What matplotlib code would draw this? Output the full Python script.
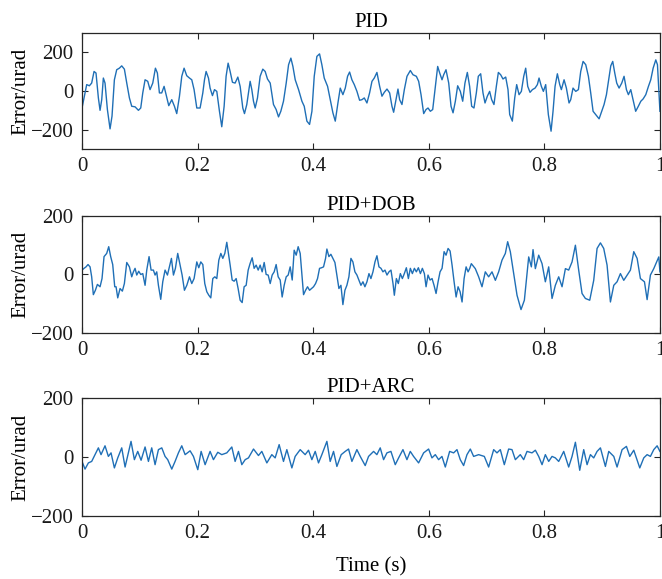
import matplotlib
matplotlib.use("Agg")
import matplotlib.pyplot as plt

# values: time (s) and error (urad)
pid_t = [0, 0.0035, 0.0081, 0.0127, 0.0167, 0.0208, 0.0242, 0.0283, 0.0312, 0.0341,
         0.0369, 0.0398, 0.0439, 0.0485, 0.0519, 0.0560, 0.0600, 0.0646, 0.0687, 0.0733,
         0.0774, 0.0820, 0.0860, 0.0918, 0.0976, 0.1016, 0.1051, 0.1091, 0.1137, 0.1177,
         0.1224, 0.1270, 0.1304, 0.1339, 0.1379, 0.1420, 0.1455, 0.1501, 0.1553, 0.1599,
         0.1639, 0.1686, 0.1726, 0.1766, 0.1812, 0.1859, 0.1899, 0.1939, 0.1986, 0.2043,
         0.2090, 0.2119, 0.2147, 0.2188, 0.2216, 0.2257, 0.2292, 0.2332, 0.2378, 0.2418,
         0.2459, 0.2493, 0.2528, 0.2563, 0.2603, 0.2649, 0.2696, 0.2736, 0.2782, 0.2811,
         0.2851, 0.2909, 0.2938, 0.2967, 0.2996, 0.3036, 0.3082, 0.3128, 0.3169, 0.3209,
         0.3256,
         0.3313, 0.3359, 0.3400, 0.3440, 0.3486, 0.3533, 0.3574, 0.3614, 0.3649, 0.3689,
         0.3747, 0.3805, 0.3845, 0.3891, 0.3937, 0.3978, 0.4018, 0.4064, 0.4110, 0.4150,
         0.4191, 0.4249, 0.4295, 0.4341, 0.4382, 0.4428, 0.4468, 0.4514, 0.4555, 0.4595,
         0.4630, 0.4670, 0.4711, 0.4757, 0.4803, 0.4843, 0.4884, 0.4930, 0.4976, 0.5017,
         0.5057, 0.5103, 0.5150, 0.5190, 0.5230, 0.5277, 0.5323, 0.5363, 0.5392, 0.5432,
         0.5467, 0.5496, 0.5536, 0.5577, 0.5623, 0.5681, 0.5727, 0.5785, 0.5825, 0.5866,
         0.5912, 0.5952, 0.5987, 0.6027, 0.6068, 0.6114, 0.6154, 0.6189, 0.6229, 0.6258,
         0.6298, 0.6345, 0.6385, 0.6420, 0.6460, 0.6500, 0.6546, 0.6587,
         0.6626, 0.6667, 0.6707, 0.6742, 0.6782, 0.6823, 0.6857, 0.6898, 0.6938, 0.6973,
         0.7013, 0.7053, 0.7088, 0.7128, 0.7169, 0.7204, 0.7244, 0.7284, 0.7331, 0.7371,
         0.7400, 0.7446, 0.7487, 0.7521, 0.7562, 0.7602, 0.7643, 0.7677, 0.7712, 0.7752,
         0.7793, 0.7839, 0.7879, 0.7908, 0.7948, 0.7983, 0.8023, 0.8069, 0.8116, 0.8150,
         0.8185, 0.8225, 0.8266, 0.8294, 0.8341, 0.8381, 0.8427, 0.8456, 0.8496, 0.8543,
         0.8589, 0.8629, 0.8670, 0.8716, 0.8762, 0.8802, 0.8843, 0.8889, 0.8947, 0.8993,
         0.9033, 0.9074, 0.9108, 0.9149, 0.9183, 0.9218, 0.9252, 0.9293, 0.9339, 0.9379,
         0.9420, 0.9454, 0.9495, 0.9535, 0.9580, 0.9626, 0.9669, 0.9709, 0.9755, 0.9801,
         0.9841, 0.9882, 0.9928, 0.9957, 1.0]
pid_err = [-88, -36, 33, 27, 41, 101, 93, -36, -100, -45,
           67, 41, -96, -196, -130, 58, 110, 118, 130, 113,
           41, -36, -79, -82, -100, -88, -10, 58, 50, 7,
           41, 118, 93, -10, -10, 24, -19, -76, -45, -79,
           -117, -27, 76, 118, 79, 67, 58, 7, -88, -88,
           -10, 58, 101, 67, 15, -24, 7, -2, -105, -185,
           -79, 76, 144, 101, 45, 41, 72, 24, -88, -117,
           -70, 50, 7, -53, -88, -36, 76, 113, 101, 62,
           41,
           -70, -96, -134, -105, -53, 41, 136, 170, 127, 58,
           7, -53, -79, -156, -173, -105, 76, 179, 192, 136,
           67, 24, -45, -113, -156, -62, 15, -19, 15, 76,
           98, 58, 33, -2, -48, -45, -36, -62, -10, 50,
           67, 96, 24, -27, -7, 10, -10, -79, -110, -45,
           10, -45, -70, 7, 76, 106, 84, 76, 50, -19,
           -117, -96, -88, -105, -96, 24, 127, 93, 58, 84,
           110, 41, -79, -113, -53, 27, -2, -53,
           41, 96, 24, -79, -88, -10, 76, 89, -10, -62,
           -27, -2, -45, -70, 24, 96, 84, 62, 72, 7,
           -122, -156, -36, 33, -19, -2, 76, 118, 24, -7,
           7, 15, 33, 67, 24, -2, 33, -122, -208, -105,
           24, 89, 33, 7, 58, 15, -62, -45, 15, -2,
           7, 101, 153, 136, 76, -10, -105, -122, -144, -105,
           -70, -19, 50, 130, 153, 93, 41, 15, 41, 76,
           7, -19, 7, -45, -105, -79, -53, -41, -19, 24,
           58, 118, 161, 136, -105]

dob_t = [0, 0.0035, 0.0069, 0.0104, 0.0139, 0.0167, 0.0196, 0.0231, 0.0266, 0.0312,
         0.0346, 0.0381, 0.0427, 0.0462, 0.0496, 0.0531, 0.0566, 0.0589, 0.0618, 0.0658,
         0.0698, 0.0733, 0.0774, 0.0820, 0.0860, 0.0889, 0.0918, 0.0947, 0.0981, 0.1016,
         0.1051, 0.1091, 0.1120, 0.1160, 0.1195, 0.1235, 0.1264, 0.1293, 0.1322, 0.1362,
         0.1397, 0.1437, 0.1478, 0.1512, 0.1547, 0.1582, 0.1616, 0.1656, 0.1697, 0.1732,
         0.1772, 0.1813, 0.1859, 0.1899, 0.1939, 0.1986, 0.2020, 0.2055, 0.2090, 0.2124,
         0.2159, 0.2194, 0.2228, 0.2263, 0.2298, 0.2332, 0.2367, 0.2402, 0.2436, 0.2471,
         0.2505, 0.2534, 0.2563, 0.2598, 0.2632, 0.2667, 0.2701, 0.2736, 0.2771, 0.2805,
         0.2840, 0.2875, 0.2909, 0.2944, 0.2978, 0.3013, 0.3048, 0.3082, 0.3117, 0.3152,
         0.3186, 0.3221, 0.3256,
         0.3290, 0.3325, 0.3359, 0.3394, 0.3429, 0.3463, 0.3498, 0.3533, 0.3567, 0.3602,
         0.3637, 0.3671, 0.3706, 0.3740, 0.3775, 0.3810, 0.3833, 0.3868, 0.3902, 0.3937,
         0.3972, 0.4006, 0.4041, 0.4075, 0.4110, 0.4145, 0.4179, 0.4214, 0.4237, 0.4272,
         0.4306, 0.4341, 0.4376, 0.4410, 0.4445, 0.4480, 0.4514, 0.4549, 0.4583, 0.4618,
         0.4653, 0.4687, 0.4722, 0.4757, 0.4791, 0.4826, 0.4861, 0.4895, 0.4930, 0.4965,
         0.4999, 0.5034, 0.5069, 0.5103, 0.5138, 0.5173, 0.5207, 0.5242, 0.5277, 0.5311,
         0.5346, 0.5381, 0.5404, 0.5439, 0.5473, 0.5508, 0.5543, 0.5577, 0.5612, 0.5647,
         0.5681, 0.5716, 0.5751, 0.5785, 0.5820, 0.5855, 0.5889, 0.5924, 0.5953, 0.5987,
         0.6022, 0.6057, 0.6091, 0.6126, 0.6161, 0.6195, 0.6230, 0.6265, 0.6299, 0.6334,
         0.6369, 0.6403, 0.6438, 0.6473, 0.6507, 0.6542, 0.6576, 0.6611, 0.6646, 0.6680,
         0.6709,
         0.6736, 0.6805, 0.6863, 0.6921, 0.6978, 0.7036, 0.7094, 0.7152, 0.7209, 0.7267,
         0.7325, 0.7365, 0.7411, 0.7469, 0.7527, 0.7596, 0.7654, 0.7729, 0.7775, 0.7804,
         0.7844, 0.7902, 0.7960, 0.8017, 0.8075, 0.8133, 0.8190, 0.8248, 0.8306, 0.8364,
         0.8421, 0.8479, 0.8537, 0.8594, 0.8652, 0.8710, 0.8785, 0.8854, 0.8912, 0.8970,
         0.9027, 0.9085, 0.9143, 0.9201, 0.9258, 0.9316, 0.9374, 0.9432, 0.9489, 0.9547,
         0.9605, 0.9662, 0.9732, 0.9778, 0.9835, 0.9893, 0.9980, 1.0]
dob_err = [15, 21, 26, 34, 26, -8, -69, -54, -34, -42,
           -14, 61, 72, 95, 61, 34, -42, -42, -80, -48,
           -57, -31, 41, 26, -8, 9, 21, -2, 11, 0,
           3, -37, 15, 61, 15, 15, -2, 9, -37, -85,
           -25, 15, -2, 26, 55, -2, 21, 72, 32, -2,
           -54, -37, -8, -31, -14, 43, 23, 43, 34, -31,
           -59, -71, -80, -14, -8, -14, 49, 72, 55, 72,
           110, 72, 32, -19, -23, -14, -48, -88, -96, -42,
           -37, 15, 38, 57, 21, 32, 15, 32, 9, 41,
           0, -2, -31,
           -2, 9, 34, -8, -19, -77, -37, -8, -2, 26,
           -19, 83, 66, 95, 72, -14, -69, -54, -42, -54,
           -48, -42, -31, -14, 21, 23, 26, 55, 87, 61,
           69, 55, 41, -2, -48, -37, -103, -54, -37, -8,
           55, 43, 9, -2, -19, -37, -25, -42, -25, 3,
           -14, 9, 43, 64, 26, 21, 9, 15, -2, 9,
           15, -31, -71, -14, -31, 3, -14, 3, 23, -14,
           21, 3, 21, 9, 23, 3, 21, 3, -42, -2,
           -19, -14, -37, -65, -25, 9, 21, 78, 66, 89,
           80, 32, -25, -77, -42, -59, -94, -14, 26, 9,
           21,
           37, 20, -8, -42, 9, -8, 9, -20, 9, 49,
           72, 112, 78, 3, -71, -120, -88, 60, 26, 85,
           20, 66, 37, -25, 26, -82, -37, -8, -42, 20,
           15, 43, 100, 15, -65, -82, -88, -20, 89, 108,
           89, 32, -94, -37, -25, 3, -20, -2, 15, 78,
           55, -14, -25, -86, -2, 20, 60, 9]

arc_t = [0, 0.0052, 0.0110, 0.0167, 0.0225, 0.0283, 0.0329, 0.0398, 0.0456, 0.0502,
         0.0560, 0.0618, 0.0687, 0.0745, 0.0802, 0.0848, 0.0906, 0.0964, 0.1022, 0.1091,
         0.1149, 0.1206, 0.1264, 0.1322, 0.1380, 0.1437, 0.1483, 0.1553, 0.1610, 0.1668,
         0.1726, 0.1784, 0.1870, 0.1928, 0.2003, 0.2061, 0.2130, 0.2216, 0.2274, 0.2349,
         0.2418, 0.2505, 0.2592, 0.2649, 0.2707, 0.2765, 0.2823, 0.2880, 0.2967, 0.3053,
         0.3111, 0.3198, 0.3284, 0.3342, 0.3411, 0.3486, 0.3544, 0.3631, 0.3688, 0.3775,
         0.3861, 0.3919, 0.3977, 0.4035, 0.4092, 0.4150, 0.4237, 0.4294, 0.4352, 0.4410,
         0.4485, 0.4554, 0.4612, 0.4670, 0.4756,
         0.4814, 0.4900, 0.4958, 0.5045, 0.5102, 0.5160, 0.5218, 0.5276, 0.5345, 0.5420,
         0.5478, 0.5553, 0.5622, 0.5680, 0.5737, 0.5824, 0.5911, 0.5997, 0.6055, 0.6113,
         0.6170, 0.6228, 0.6286, 0.6361, 0.6430, 0.6488, 0.6545, 0.6603, 0.6661, 0.6719,
         0.6776, 0.6863, 0.6961, 0.7036, 0.7123, 0.7180, 0.7238, 0.7307, 0.7382, 0.7440,
         0.7498, 0.7584, 0.7642, 0.7700, 0.7786, 0.7844, 0.7902, 0.7960, 0.8017, 0.8075,
         0.8133, 0.8190, 0.8248, 0.8335, 0.8421, 0.8479, 0.8537, 0.8612, 0.8681, 0.8739,
         0.8797, 0.8854, 0.8912, 0.8970, 0.9056, 0.9114, 0.9201, 0.9258, 0.9345, 0.9420,
         0.9478, 0.9547, 0.9651, 0.9720, 0.9778, 0.9835, 0.9893, 0.9951, 1.0]
arc_err = [-15, -41, -20, -15, 8, 31, 8, 38, 2, 14,
           -37, -3, 31, -34, 14, 53, -9, 19, -11, 34,
           -15, 31, -26, 25, 31, 2, -9, -41, -15, 14,
           38, 8, 21, 2, -43, 19, -26, 19, -9, 16,
           8, 14, 34, -15, 19, -26, -9, -3, 27, 5,
           19, -20, 8, -3, 42, -15, 25, -37, 2, 25,
           8, 23, -9, 19, -20, 8, 53, -15, 19, -32,
           8, 19, 27, -15, 25,
           2, -29, 2, 19, 8, 31, -9, 14, 19, -26,
           -3, 25, -9, 19, 2, -20, 14, 27, -3, 8,
           -9, 2, -34, 19, 14, 25, -9, -29, 8, 27,
           2, 8, 2, -34, 25, 14, 25, -26, 27, 25,
           -9, 8, -9, 19, 14, 23, 2, -26, 8, -15,
           2, -3, -15, 19, -34, 2, 50, -45, 25, -26,
           8, -3, 19, 31, -32, 19, 2, -34, 25, 36,
           2, 23, -37, -3, 8, 2, 25, 38, 19]

x_ticks = [0, 0.2, 0.4, 0.6, 0.8, 1]
x_tick_labels = ["0", "0.2", "0.4", "0.6", "0.8", "1"]

plt.rcParams['font.family'] = ['Liberation Serif', 'DejaVu Serif']
plt.rcParams['font.size'] = 15
plt.rcParams['axes.unicode_minus'] = True

LINE_COLOR = "#1f6fb6"
AX_COLOR = "#262626"


def plot_panel(ax, t, err, title, ylim, yticks):
    ax.plot(t, err, color=LINE_COLOR, linewidth=1.0)
    ax.set_xlim(0, 1)
    ax.set_ylim(*ylim)
    ax.set_xticks(x_ticks)
    ax.set_xticklabels(x_tick_labels)
    ax.set_yticks(yticks)
    ax.set_ylabel("Error/urad", labelpad=0)
    ax.set_title(title, fontsize=15, pad=4)
    ax.tick_params(direction="in", top=True, right=True, length=4.5, width=0.8,
                   colors=AX_COLOR, labelcolor="#1a1a1a", pad=6)
    for s in ax.spines.values():
        s.set_color(AX_COLOR)
        s.set_linewidth(0.9)


fig = plt.figure(figsize=(6.62, 5.79), dpi=100)
ax1 = fig.add_axes([0.1239, 0.7427, 0.873, 0.2003])
ax2 = fig.add_axes([0.1239, 0.4249, 0.873, 0.2021])
ax3 = fig.add_axes([0.1239, 0.1088, 0.873, 0.2038])

plot_panel(ax1, pid_t, pid_err, "PID", (-300, 300), [-200, 0, 200])
plot_panel(ax2, dob_t, dob_err, "PID+DOB", (-200, 200), [-200, 0, 200])
plot_panel(ax3, arc_t, arc_err, "PID+ARC", (-200, 200), [-200, 0, 200])
ax3.set_xlabel("Time (s)", labelpad=10)

fig.savefig("out.png", dpi=100)
